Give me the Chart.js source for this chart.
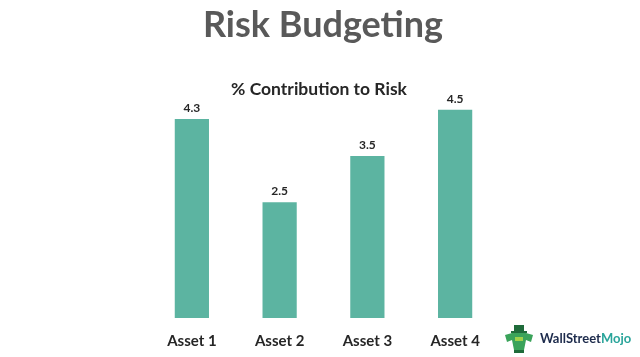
<!DOCTYPE html>
<html>
<head>
<meta charset="utf-8">
<script src="https://cdn.jsdelivr.net/npm/chart.js@4"></script>
<style>
  html, body { margin: 0; padding: 0; background: #ffffff; }
  #wrap { width: 640px; height: 357px; position: relative; }
</style>
</head>
<body>
<div id="wrap"><canvas id="c" width="640" height="357"></canvas></div>
<script>
const chartTitle = "Risk Budgeting";
const chartSubtitle = "% Contribution to Risk";
const categories = ["Asset 1", "Asset 2", "Asset 3", "Asset 4"];
const contribution = [4.3, 2.5, 3.5, 4.5];
const yTicks = [0, 5];

const barColor = "#5cb4a1";
const FONT = "Lato, 'Open Sans', sans-serif";

const overlayPlugin = {
  id: "overlay",
  afterDatasetsDraw(chart) {
    const ctx = chart.ctx;
    const meta = chart.getDatasetMeta(0);
    ctx.save();
    ctx.fillStyle = "#262626";
    ctx.font = "bold 12px " + FONT;
    ctx.textAlign = "center";
    ctx.textBaseline = "alphabetic";
    meta.data.forEach((bar, i) => {
      ctx.fillText(contribution[i].toFixed(1), bar.x, bar.y - 7);
    });
    ctx.restore();
  },
  afterDraw(chart) {
    const ctx = chart.ctx;
    ctx.save();
    ctx.textAlign = "center";
    ctx.textBaseline = "alphabetic";
    ctx.fillStyle = "#595959";
    ctx.font = "bold 36px " + FONT;
    ctx.fillText(chartTitle, 323, 37);
    ctx.fillStyle = "#262626";
    ctx.font = "bold 17.5px " + FONT;
    ctx.fillText(chartSubtitle, 319, 95);

    // logo icon
    ctx.fillStyle = "#1f6b3a";
    ctx.fillRect(514, 325, 10, 7);
    ctx.fillRect(511, 331, 16, 2);
    ctx.fillStyle = "#3aa35a";
    ctx.beginPath();
    ctx.moveTo(505, 335); ctx.lineTo(512, 333); ctx.lineTo(526, 333); ctx.lineTo(533, 335);
    ctx.lineTo(531, 342); ctx.lineTo(526, 340); ctx.lineTo(524, 350); ctx.lineTo(514, 350);
    ctx.lineTo(512, 340); ctx.lineTo(507, 342); ctx.closePath();
    ctx.fill();
    ctx.fillStyle = "#9ed24a";
    ctx.fillRect(515, 337, 8, 4);
    ctx.fillStyle = "#1f6b3a";
    ctx.fillRect(514, 350, 10, 3);

    // logo text
    ctx.textAlign = "left";
    ctx.font = "bold 13px " + FONT;
    ctx.fillStyle = "#1d2b4c";
    ctx.fillText("WallStreet", 540, 343);
    const w = ctx.measureText("WallStreet").width;
    ctx.fillStyle = "#2aa59b";
    ctx.fillText("Mojo", 540 + w, 343);
    ctx.restore();
  }
};

new Chart(document.getElementById("c"), {
  type: "bar",
  data: {
    labels: categories,
    datasets: [{
      data: contribution,
      backgroundColor: barColor,
      borderWidth: 0,
      barPercentage: 0.39,
      categoryPercentage: 1.0
    }]
  },
  options: {
    responsive: false,
    animation: false,
    devicePixelRatio: 1,
    layout: { padding: { left: 148, right: 141, top: 86.5, bottom: 0 } },
    plugins: {
      legend: { display: false },
      title: { display: false },
      tooltip: { enabled: false }
    },
    scales: {
      x: {
        grid: { display: false, drawTicks: false },
        border: { display: false },
        ticks: { color: "#262626", font: { family: FONT, size: 15, weight: "bold" }, padding: 14 },
        afterFit(scale) { scale.height = 39; }
      },
      y: {
        display: false,
        min: yTicks[0],
        max: yTicks[1]
      }
    }
  },
  plugins: [overlayPlugin]
});
</script>
</body>
</html>
